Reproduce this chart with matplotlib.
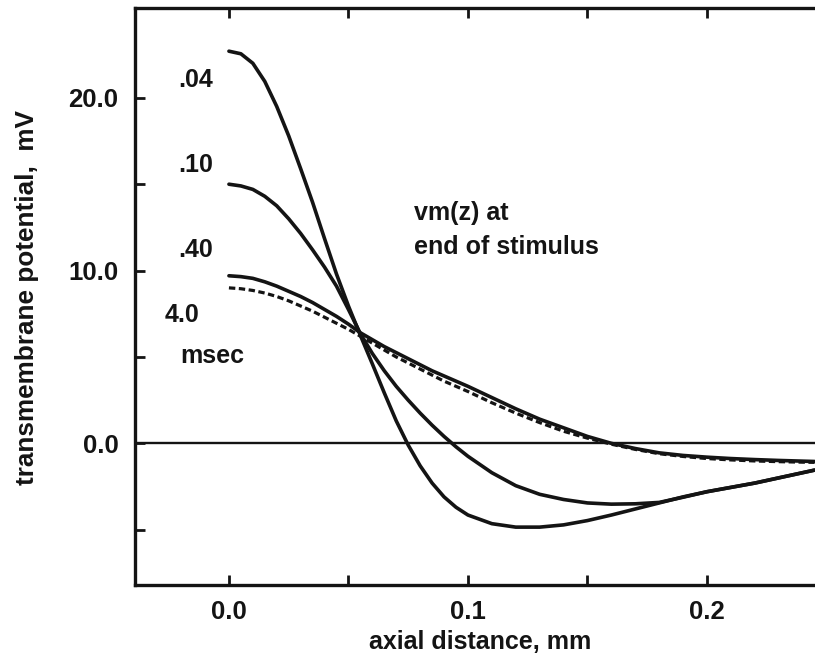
import matplotlib
matplotlib.use("Agg")
import matplotlib.pyplot as plt
from matplotlib.ticker import FixedLocator

plt.rcParams['font.family'] = ['Liberation Sans', 'DejaVu Sans']

# axial distance (mm)
z = [0.0, 0.005, 0.01, 0.015, 0.02, 0.025, 0.03, 0.035, 0.04, 0.045,
     0.05, 0.055, 0.06, 0.065, 0.07, 0.075, 0.08, 0.085, 0.09, 0.095,
     0.10, 0.11, 0.12, 0.13, 0.14, 0.15, 0.16, 0.17, 0.18, 0.19,
     0.20, 0.21, 0.22, 0.23, 0.24, 0.245]

# transmembrane potential (mV) at end of stimulus, by stimulus duration
vm_004 = [22.7, 22.55, 22.0, 20.95, 19.5, 17.8, 15.9, 13.95, 11.85, 9.8,
          7.95, 6.25, 4.6, 2.92, 1.3, -0.1, -1.3, -2.3, -3.1, -3.7,
          -4.15, -4.65, -4.85, -4.85, -4.72, -4.47, -4.15, -3.8, -3.45, -3.1,
          -2.8, -2.55, -2.3, -2.0, -1.7, -1.55]
vm_010 = [15.0, 14.9, 14.7, 14.3, 13.75, 13.0, 12.15, 11.2, 10.2, 9.1,
          7.75, 6.35, 5.2, 4.2, 3.3, 2.5, 1.75, 1.05, 0.4, -0.2,
          -0.75, -1.7, -2.45, -2.95, -3.25, -3.45, -3.52, -3.5, -3.42, -3.12,
          -2.8, -2.55, -2.3, -2.0, -1.7, -1.55]
vm_040 = [9.7, 9.65, 9.55, 9.35, 9.1, 8.8, 8.5, 8.15, 7.75, 7.35,
          6.9, 6.4, 6.0, 5.6, 5.25, 4.9, 4.55, 4.2, 3.9, 3.6,
          3.3, 2.65, 2.0, 1.4, 0.9, 0.4, 0.0, -0.3, -0.55, -0.7,
          -0.8, -0.88, -0.94, -0.99, -1.03, -1.05]
vm_400 = [9.0, 8.95, 8.85, 8.7, 8.5, 8.25, 7.95, 7.65, 7.3, 6.95,
          6.6, 6.2, 5.8, 5.4, 5.0, 4.65, 4.3, 3.95, 3.6, 3.3,
          3.0, 2.35, 1.75, 1.2, 0.7, 0.3, -0.05, -0.35, -0.6, -0.76,
          -0.88, -0.96, -1.02, -1.06, -1.09, -1.1]

x_major = [0.0, 0.1, 0.2]
x_minor = [0.05, 0.15]
x_labels = ["0.0", "0.1", "0.2"]
y_major = [0.0, 10.0, 20.0]
y_minor = [-5.0, 5.0, 15.0]
y_labels = ["0.0", "10.0", "20.0"]

ink = "#141414"
fs = 18
fs_tick = 18.5

fig = plt.figure(figsize=(8.15, 6.62), dpi=100)
ax = fig.add_axes([135 / 815, 1 - 585 / 662, 1 - 135 / 815, (585 - 8) / 662])
ax.set_xlim(-0.0393, 0.2452)
ax.set_ylim(-8.2, 25.2)

ax.axhline(0.0, color=ink, lw=1.7, zorder=1)
lw = 2.6
ax.plot(z, vm_004, color=ink, lw=lw, solid_capstyle='round', solid_joinstyle='round')
ax.plot(z, vm_010, color=ink, lw=lw, solid_capstyle='round', solid_joinstyle='round')
ax.plot(z, vm_040, color=ink, lw=lw, solid_capstyle='round', solid_joinstyle='round')
ax.plot(z, vm_400, color=ink, lw=2.3, dashes=(2.0, 1.1))

for side in ("left", "bottom", "top"):
    ax.spines[side].set_linewidth(2.4)
    ax.spines[side].set_color(ink)
ax.spines["right"].set_visible(False)

ax.xaxis.set_major_locator(FixedLocator(x_major))
ax.xaxis.set_minor_locator(FixedLocator(x_minor))
ax.yaxis.set_major_locator(FixedLocator(y_major))
ax.yaxis.set_minor_locator(FixedLocator(y_minor))
ax.set_xticklabels(x_labels)
ax.set_yticklabels(y_labels)
ax.tick_params(axis='x', which='both', direction='in', top=True, bottom=True,
               length=7, width=2.0, color=ink, pad=11)
ax.tick_params(axis='y', which='both', direction='in', left=True, right=False,
               length=7, width=2.0, color=ink, pad=12)
for lab in ax.get_xticklabels() + ax.get_yticklabels():
    lab.set_fontsize(fs_tick)
    lab.set_fontweight('bold')
    lab.set_color(ink)

ax.set_xlabel("axial distance, mm", fontsize=fs, fontweight='bold', color=ink)
ax.set_ylabel("transmembrane potential,  mV", fontsize=18.8, fontweight='bold',
              color=ink)
ax.xaxis.set_label_coords(345 / 680, -45 / 577)
ax.yaxis.set_label_coords(-96 / 680, (585 - 298) / 577)

tk = dict(fontsize=fs, fontweight='bold', color=ink, va='baseline', ha='left')
ax.text(-0.0213, 20.65, ".04", **tk)
ax.text(-0.0213, 15.73, ".10", **tk)
ax.text(-0.0213, 10.8, ".40", **tk)
ax.text(-0.0268, 7.03, "4.0", **tk)
ax.text(-0.0205, 4.66, "msec", **tk)
ax.text(0.0774, 12.95, "vm(z) at", **tk)
ax.text(0.0774, 10.97, "end of stimulus", **tk)

fig.savefig("out.png", dpi=100)
